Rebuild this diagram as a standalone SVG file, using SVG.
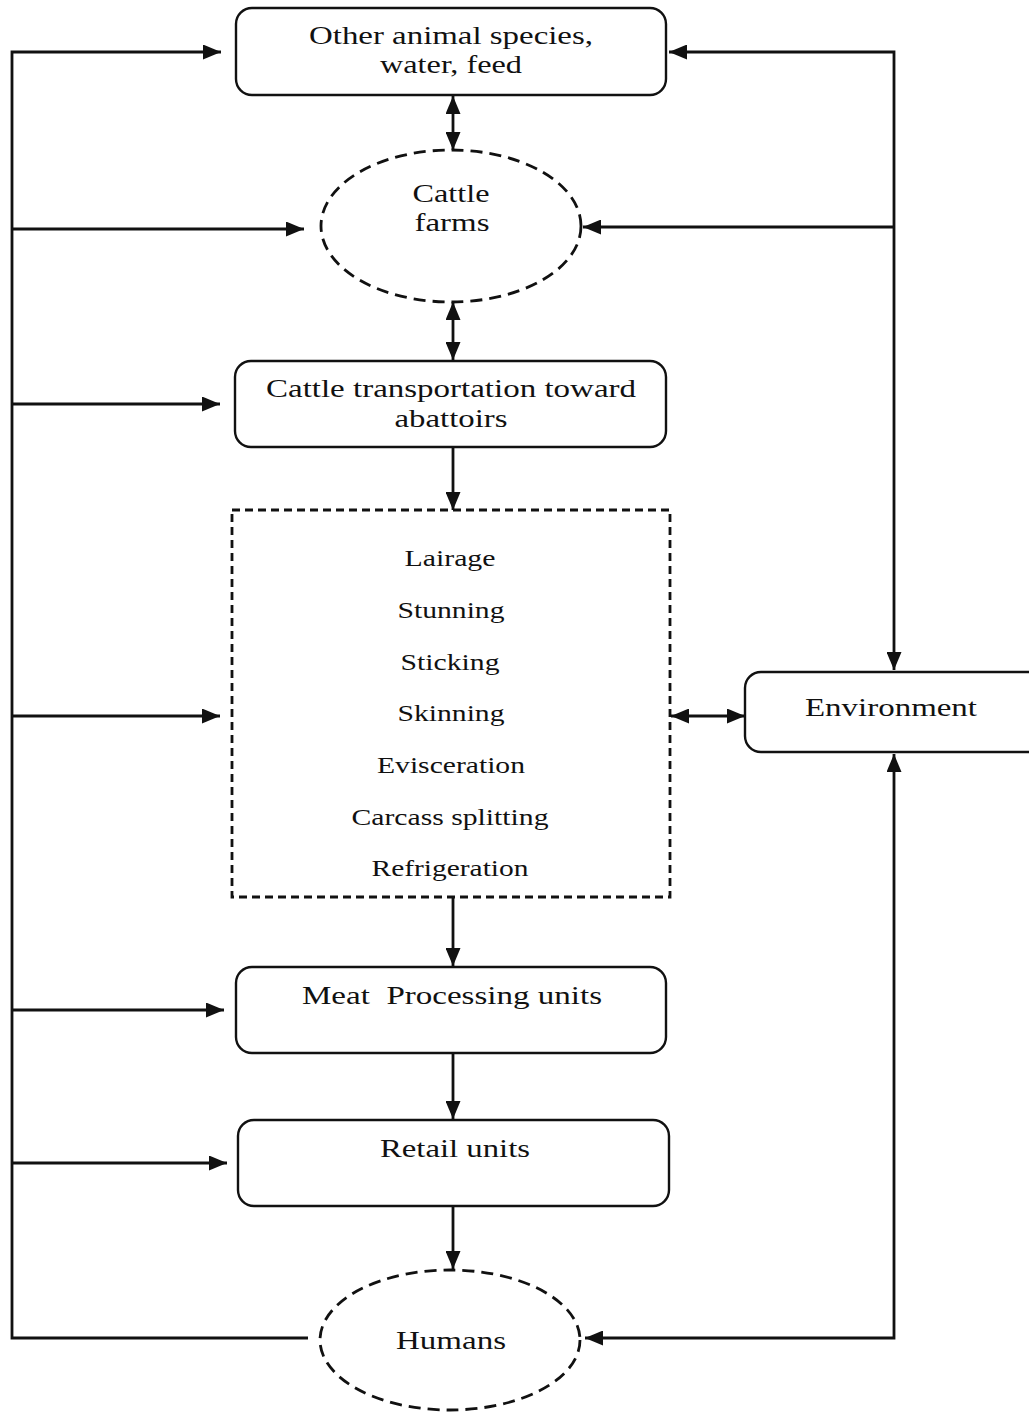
<svg xmlns="http://www.w3.org/2000/svg" width="1029" height="1422" viewBox="0 0 1029 1422">
<style>
.box{fill:#fff;stroke:#111;stroke-width:2.4}
.dash{fill:#fff;stroke:#111;stroke-width:2.8;stroke-dasharray:12 7}
.dashr{fill:#fff;stroke:#111;stroke-width:2.8;stroke-dasharray:8 5}
.t{font-family:"Liberation Serif","Times New Roman",serif;font-size:25px;fill:#111;text-anchor:middle}
.s{font-family:"Liberation Serif","Times New Roman",serif;font-size:23px;fill:#111;text-anchor:middle}
.c{fill:none;stroke:#111;stroke-width:2.8}
</style>
<defs>
<marker id="ah" viewBox="0 0 18 15" refX="18" refY="7.5" markerWidth="18" markerHeight="15" markerUnits="userSpaceOnUse" orient="auto-start-reverse">
<path d="M0,0 L18,7.5 L0,15 z" fill="#111"/>
</marker>
</defs>
<g id="connectors">
<polyline class="c" points="308,1338 12,1338 12,52 221,52" marker-end="url(#ah)"/>
<line class="c" x1="12" y1="229" x2="304" y2="229" marker-end="url(#ah)"/>
<line class="c" x1="12" y1="404" x2="220" y2="404" marker-end="url(#ah)"/>
<line class="c" x1="12" y1="716" x2="220" y2="716" marker-end="url(#ah)"/>
<line class="c" x1="12" y1="1010" x2="224" y2="1010" marker-end="url(#ah)"/>
<line class="c" x1="12" y1="1163" x2="227" y2="1163" marker-end="url(#ah)"/>
<polyline class="c" points="894,670 894,52 669,52" marker-start="url(#ah)" marker-end="url(#ah)"/>
<line class="c" x1="894" y1="227" x2="583" y2="227" marker-end="url(#ah)"/>
<polyline class="c" points="894,754 894,1338 585,1338" marker-start="url(#ah)" marker-end="url(#ah)"/>
<line class="c" x1="453" y1="96" x2="453" y2="150" marker-start="url(#ah)" marker-end="url(#ah)"/>
<line class="c" x1="453" y1="302" x2="453" y2="360" marker-start="url(#ah)" marker-end="url(#ah)"/>
<line class="c" x1="453" y1="448" x2="453" y2="510" marker-end="url(#ah)"/>
<line class="c" x1="453" y1="898" x2="453" y2="966" marker-end="url(#ah)"/>
<line class="c" x1="453" y1="1054" x2="453" y2="1119" marker-end="url(#ah)"/>
<line class="c" x1="453" y1="1207" x2="453" y2="1269" marker-end="url(#ah)"/>
<line class="c" x1="671" y1="716" x2="745" y2="716" marker-start="url(#ah)" marker-end="url(#ah)"/>
</g>
<g id="node-other">
<rect class="box" x="236" y="8" width="430" height="87" rx="16"/>
<text class="t" x="451" y="44" textLength="284" lengthAdjust="spacingAndGlyphs">Other animal species,</text>
<text class="t" x="451" y="73" textLength="142" lengthAdjust="spacingAndGlyphs">water, feed</text>
</g>
<g id="node-farms">
<ellipse class="dash" cx="451" cy="226" rx="130" ry="76"/>
<text class="t" x="451" y="202" textLength="77" lengthAdjust="spacingAndGlyphs">Cattle</text>
<text class="t" x="452" y="231" textLength="75" lengthAdjust="spacingAndGlyphs">farms</text>
</g>
<g id="node-transport">
<rect class="box" x="235" y="361" width="431" height="86" rx="16"/>
<text class="t" x="451" y="397" textLength="370" lengthAdjust="spacingAndGlyphs">Cattle transportation toward</text>
<text class="t" x="451" y="427" textLength="113" lengthAdjust="spacingAndGlyphs">abattoirs</text>
</g>
<g id="node-abattoir">
<rect class="dashr" x="232" y="510" width="438" height="387"/>
<text class="s" x="450" y="566" textLength="91" lengthAdjust="spacingAndGlyphs">Lairage</text>
<text class="s" x="451" y="618" textLength="107" lengthAdjust="spacingAndGlyphs">Stunning</text>
<text class="s" x="450" y="670" textLength="99" lengthAdjust="spacingAndGlyphs">Sticking</text>
<text class="s" x="451" y="721" textLength="107" lengthAdjust="spacingAndGlyphs">Skinning</text>
<text class="s" x="451" y="773" textLength="148" lengthAdjust="spacingAndGlyphs">Evisceration</text>
<text class="s" x="450" y="825" textLength="197" lengthAdjust="spacingAndGlyphs">Carcass splitting</text>
<text class="s" x="450" y="876" textLength="157" lengthAdjust="spacingAndGlyphs">Refrigeration</text>
</g>
<g id="node-meat">
<rect class="box" x="236" y="967" width="430" height="86" rx="16"/>
<text class="t" x="452" y="1004" textLength="300" lengthAdjust="spacingAndGlyphs" xml:space="preserve">Meat  Processing units</text>
</g>
<g id="node-retail">
<rect class="box" x="238" y="1120" width="431" height="86" rx="16"/>
<text class="t" x="455" y="1157" textLength="150" lengthAdjust="spacingAndGlyphs">Retail units</text>
</g>
<g id="node-environment">
<rect class="box" x="745" y="672" width="300" height="80" rx="16"/>
<text class="t" x="891" y="716" textLength="172" lengthAdjust="spacingAndGlyphs">Environment</text>
</g>
<g id="node-humans">
<ellipse class="dash" cx="450" cy="1340" rx="130" ry="70"/>
<text class="t" x="451" y="1349" textLength="110" lengthAdjust="spacingAndGlyphs">Humans</text>
</g>
</svg>
